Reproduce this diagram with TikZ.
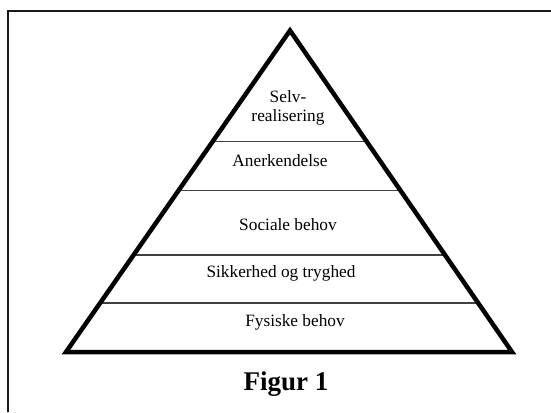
\documentclass[tikz,border=0pt]{standalone}
\usepackage{fontspec}
\setmainfont{Liberation Serif}
\usetikzlibrary{calc}
\begin{document}
\begin{tikzpicture}[x=1bp,y=-1bp,
  frame/.style={line width=2bp, black!90},
  pyramid/.style={line width=4.5bp, line join=miter},
  level/.style={line width=1.3bp, black!75},
  lbl/.style={font=\fontsize{17.3bp}{19bp}\selectfont, inner sep=0pt, anchor=base},
  titlelbl/.style={font=\fontsize{27bp}{30bp}\selectfont\bfseries, inner sep=0pt, anchor=base}]
\useasboundingbox (0,0) rectangle (551,412);
% frame
\coordinate (fb) at (8,412);
\coordinate (ftl) at (8,10.5);
\coordinate (fr) at (551,10.5);
\draw[frame] (fb) -- (ftl) -- (fr);
% pyramid corners
\coordinate (A) at (290,30.5);
\coordinate (L) at (66,352);
\coordinate (R) at (512,352);
% level lines
\foreach \t [count=\i] in {0.3458,0.4984,0.6978,0.8474}{
  \coordinate (l\i) at ($(A)!\t!(L)$);
  \coordinate (r\i) at ($(A)!\t!(R)$);
  \draw[level] (l\i) -- (r\i);
}
\draw[pyramid] (A) -- (L) -- (R) -- cycle;
% labels
\node[lbl] (selv) at (288,102) {Selv-};
\node[lbl] (real) at (288,121) {realisering};
\node[lbl] (aner) at (280,166) {Anerkendelse};
\node[lbl] (soc) at (288,230) {Sociale behov};
\node[lbl] (sik) at (281,277) {Sikkerhed og tryghed};
\node[lbl] (fys) at (295,326) {Fysiske behov};
\node[titlelbl] (fig) at (286,390) {Figur 1};
\end{tikzpicture}
\end{document}
